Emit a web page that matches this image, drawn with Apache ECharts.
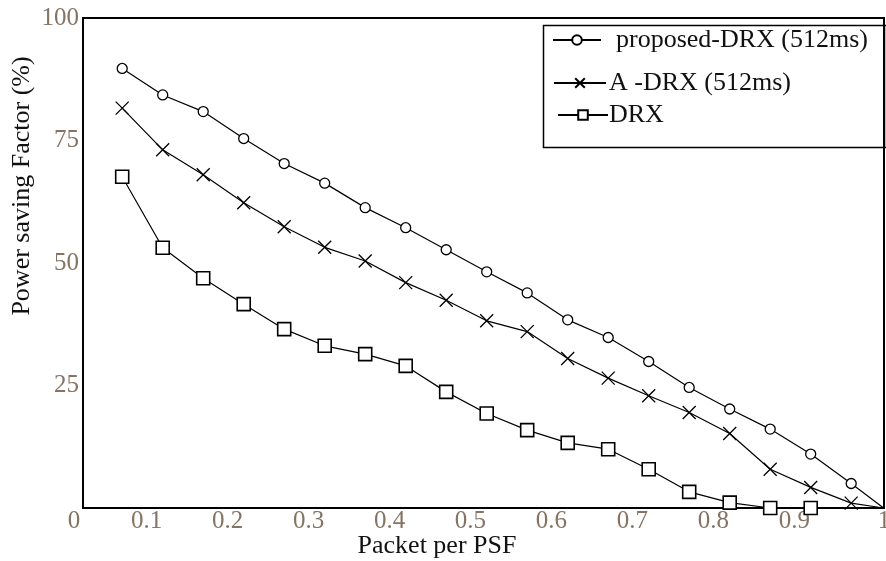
<!DOCTYPE html>
<html><head><meta charset="utf-8">
<script src="https://cdn.jsdelivr.net/npm/echarts@6/dist/echarts.min.js"></script>
<style>html,body{margin:0;padding:0;background:#fff}#c{width:886px;height:561px}</style>
</head><body><div id="c"></div>
<script>
// Packet per PSF values of the plotted points
const xValues = [0.07,0.12,0.17,0.22,0.27,0.32,0.37,0.42,0.47,0.52,0.57,0.62,0.67,0.72,0.77,0.82,0.87,0.92,0.97,1.01];
// Power saving factor (%)
const proposedDRX = [89.7,84.3,80.9,75.4,70.3,66.3,61.3,57.2,52.7,48.2,43.9,38.4,34.8,29.9,24.6,20.2,16.1,11.0,5.0,0];
const aDRX = [81.6,73.1,68.0,62.3,57.4,53.2,50.4,46.0,42.4,38.2,36.0,30.5,26.5,22.9,19.5,15.2,7.9,4.2,1.0,0];
const drx = [67.6,53.1,46.9,41.6,36.5,33.1,31.4,29.0,23.7,19.3,15.9,13.3,12.0,7.9,3.3,1.1,0,0];
const seriesNames = ['proposed-DRX (512ms)','A -DRX (512ms)','DRX'];
const xTickValues = [0.0216,0.1,0.2,0.3,0.4,0.5,0.6,0.7,0.8,0.9,1.0105];
const xTickLabels = ['0','0.1','0.2','0.3','0.4','0.5','0.6','0.7','0.8','0.9','1'];
const yTickLabels = ['0','25','50','75','100'];

const FONT = 'Liberation Serif';
const LABEL_COLOR = '#857463';

function pairs(ys, lastNoSymbol) {
  return ys.map((y, i) => {
    const item = {value: [xValues[i], y]};
    if (lastNoSymbol && i === xValues.length - 1) item.symbol = 'none';
    return item;
  });
}
function xLabelFor(v) {
  let best = 0;
  for (let i = 1; i < xTickValues.length; i++) {
    if (Math.abs(xTickValues[i] - v) < Math.abs(xTickValues[best] - v)) best = i;
  }
  return best === 0 ? '{z|' + xTickLabels[best] + '}' : xTickLabels[best];
}

const chart = echarts.init(document.getElementById('c'), null, {renderer: 'canvas'});
const lineStyle = {color: '#000', width: 1.2};
chart.setOption({
  animation: false,
  backgroundColor: '#fff',
  grid: {left: 83, right: 2, top: 18, bottom: 53, outerBoundsMode: 'none', containLabel: false,
         show: true, borderColor: '#000', borderWidth: 2, backgroundColor: 'transparent'},
  xAxis: {
    type: 'value', min: 0.0216, max: 1.0105,
    name: 'Packet per PSF', nameLocation: 'middle', nameGap: 25, nameMoveOverlap: false,
    nameTextStyle: {fontFamily: FONT, fontSize: 26, color: '#111', padding: [0, 93, 0, 0]},
    axisLine: {show: true, onZero: false, lineStyle: {color: '#000', width: 2}},
    axisTick: {show: false, customValues: xTickValues},
    splitLine: {show: false},
    axisLabel: {
      show: true,
      customValues: xTickValues,
      hideOverlap: false,
      showMinLabel: true, showMaxLabel: true,
      formatter: (v) => xLabelFor(v),
      fontFamily: FONT, fontSize: 25, color: LABEL_COLOR, margin: 1,
      rich: {z: {fontFamily: FONT, fontSize: 25, color: LABEL_COLOR, padding: [0, 18, 0, 0]}}
    }
  },
  yAxis: {
    type: 'value', min: 0, max: 100, interval: 25,
    name: 'Power saving Factor (%)', nameLocation: 'middle', nameGap: 48, nameMoveOverlap: false,
    nameTextStyle: {fontFamily: FONT, fontSize: 26, color: '#111', padding: [0, 0, 0, 154]},
    axisLine: {show: true, lineStyle: {color: '#000', width: 2}},
    axisTick: {show: false},
    splitLine: {show: false},
    axisLabel: {
      showMinLabel: false,
      formatter: (v) => yTickLabels[Math.round(v / 25)],
      fontFamily: FONT, fontSize: 25, color: LABEL_COLOR, margin: 4
    }
  },
  legend: [0, 1, 2].map((k) => ({
    data: [seriesNames[k]],
    left: [552, 553, 557][k], top: [27, 70, 102][k], padding: 0,
    itemWidth: [48, 52, 50][k], itemHeight: 12, itemGap: 0,
    textStyle: {fontFamily: FONT, fontSize: 26, color: '#111', padding: [0, 0, 0, [10, -2, -4][k]]}
  })),
  graphic: [{
    type: 'rect', left: 541, top: 23, z: 0,
    shape: {width: 343, height: 122},
    style: {fill: 'none', stroke: '#000', lineWidth: 1.5}
  }],
  series: [
    {
      name: seriesNames[0], type: 'line', data: pairs(proposedDRX, true),
      symbol: 'circle', symbolSize: 10, lineStyle,
      itemStyle: {color: '#fff', borderColor: '#000', borderWidth: 1.3}
    },
    {
      name: seriesNames[1], type: 'line', data: pairs(aDRX, true),
      symbol: 'path://M0,0L10,10M10,0L0,10', symbolSize: 13, lineStyle,
      itemStyle: {color: '#000', borderColor: '#000', borderWidth: 1.3}
    },
    {
      name: seriesNames[2], type: 'line', data: pairs(drx, false),
      symbol: 'rect', symbolSize: 13, lineStyle,
      itemStyle: {color: '#fff', borderColor: '#000', borderWidth: 1.6}
    }
  ]
});
</script></body></html>
